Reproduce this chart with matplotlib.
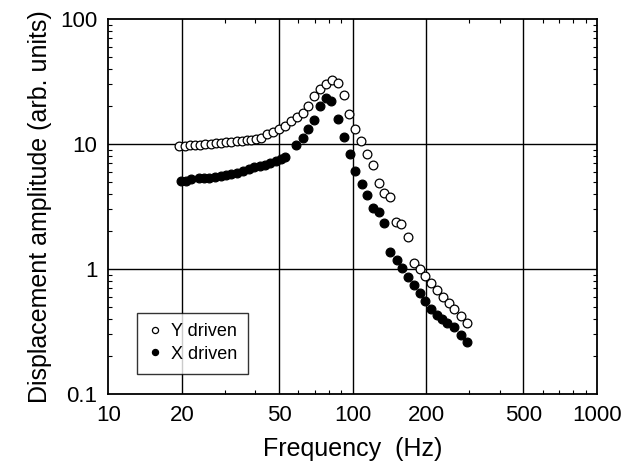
import matplotlib
matplotlib.use("Agg")
import matplotlib.pyplot as plt
from matplotlib.ticker import FixedLocator, FixedFormatter, LogLocator, NullFormatter

plt.rcParams['font.family'] = ['Liberation Sans', 'DejaVu Sans']

# Y driven (open circles)
freq_y = [19.5, 20.5, 21.5, 22.6, 23.7, 24.9, 26.2, 27.6, 28.9, 30.4, 31.9, 33.5,
          35.1, 36.8, 38.4, 40.2, 42.2, 44.8, 47.4, 50.0, 52.9, 56.0, 59.1, 62.5,
          65.9, 69.6, 73.6, 77.7, 82.2, 87.5, 92.3, 97.0, 102.4, 108.7, 114.4,
          121.0, 128.4, 134.6, 142.5, 150.8, 158.5, 168.9, 177.6, 187.9, 198.3,
          209.4, 221.4, 233.8, 247.0, 261.1, 276.6, 292.7]
amp_y = [9.55, 9.64, 9.73, 9.82, 9.87, 10.0, 10.06, 10.13, 10.24, 10.38, 10.43, 10.57,
         10.63, 10.71, 10.82, 10.96, 11.23, 11.91, 12.47, 13.06, 13.93, 15.36, 16.29, 17.80,
         20.03, 24.21, 27.39, 30.03, 32.51, 30.59, 24.66, 17.38, 13.06, 10.63, 8.32,
         6.79, 4.90, 4.03, 3.79, 2.39, 2.28, 1.81, 1.11, 1.00, 0.874,
         0.768, 0.679, 0.600, 0.538, 0.476, 0.421, 0.372]

# X driven (filled circles)
freq_x = [19.8, 20.8, 21.7, 23.6, 24.7, 25.9, 27.3, 28.8, 30.3, 31.9, 33.6, 35.6,
          37.5, 39.5, 41.6, 43.8, 46.1, 48.6, 50.9, 53.1, 58.9, 62.5, 65.9, 69.8,
          73.6, 77.9, 81.4, 87.0, 91.9, 97.2, 102.4, 109.1, 114.4, 121.3, 128.4,
          134.9, 142.5, 151.8, 159.1, 168.9, 177.6, 187.9, 198.8, 209.7, 221.4,
          232.1, 244.0, 261.1, 276.6, 292.7]
amp_x = [5.06, 5.01, 5.20, 5.30, 5.35, 5.38, 5.45, 5.57, 5.65, 5.72, 5.86, 6.08,
         6.31, 6.55, 6.67, 6.79, 6.98, 7.27, 7.59, 7.90, 9.82, 11.23, 13.06, 15.56,
         20.14, 23.21, 22.21, 15.94, 11.38, 8.24, 6.11, 4.81, 3.91, 3.06, 2.87,
         2.32, 1.375, 1.18, 1.02, 0.855, 0.738, 0.639, 0.555, 0.481, 0.431,
         0.400, 0.370, 0.342, 0.294, 0.258]

x_ticks = [10, 20, 50, 100, 200, 500, 1000]
x_tick_labels = ["10", "20", "50", "100", "200", "500", "1000"]
y_ticks = [0.1, 1, 10, 100]
y_tick_labels = ["0.1", "1", "10", "100"]

fig = plt.figure(figsize=(6.23, 4.74), dpi=100)
ax = fig.add_axes([0.174, 0.169, 0.784, 0.791])
ax.set_xscale('log')
ax.set_yscale('log')
ax.set_xlim(10, 1000)
ax.set_ylim(0.1, 100)

# grid lines
for gx in [20, 50, 100, 200, 500]:
    ax.axvline(gx, color='black', lw=1.0, zorder=1)
for gy in [1, 10]:
    ax.axhline(gy, color='black', lw=1.0, zorder=1)

ax.plot(freq_y, amp_y, 'o', ms=6.3, mfc='white', mec='black', mew=0.9,
        label='Y driven', zorder=3)
ax.plot(freq_x, amp_x, 'o', ms=6.3, mfc='black', mec='black', mew=0.9,
        label='X driven', zorder=3)

ax.xaxis.set_major_locator(FixedLocator(x_ticks))
ax.xaxis.set_major_formatter(FixedFormatter(x_tick_labels))
ax.yaxis.set_major_locator(FixedLocator(y_ticks))
ax.yaxis.set_major_formatter(FixedFormatter(y_tick_labels))
ax.xaxis.set_minor_locator(LogLocator(base=10, subs=range(2, 10)))
ax.yaxis.set_minor_locator(LogLocator(base=10, subs=range(2, 10)))
ax.xaxis.set_minor_formatter(NullFormatter())
ax.yaxis.set_minor_formatter(NullFormatter())
ax.tick_params(which='both', direction='in', top=True, right=True, labelsize=16,
               width=0.8)
ax.tick_params(which='major', length=0, pad=8)
ax.tick_params(which='minor', length=3)

for s in ax.spines.values():
    s.set_linewidth(1.3)

ax.set_xlabel('Frequency  (Hz)', fontsize=18, labelpad=8)
ax.set_ylabel('Displacement amplitude (arb. units)', fontsize=18, labelpad=6)

leg = ax.legend(loc='upper left', bbox_to_anchor=(0.058, 0.217), fontsize=13,
                frameon=True, fancybox=False, edgecolor='black', markerscale=0.7,
                handlelength=0.8, handletextpad=0.5, borderpad=0.6,
                labelspacing=0.3, borderaxespad=0)
leg.get_frame().set_linewidth(1.0)
leg.set_zorder(5)

fig.savefig('out.png', dpi=100)
